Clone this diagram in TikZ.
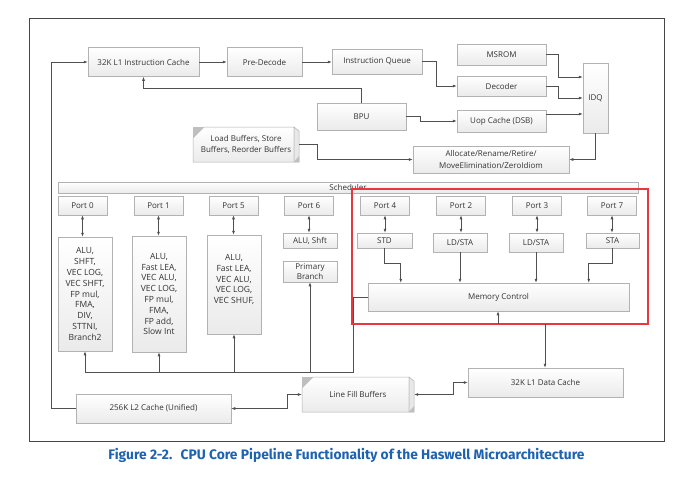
\documentclass[tikz,border=0pt]{standalone}
\usepackage{fontspec}
\setmainfont{Open Sans}
\newfontfamily\capfont{Fira Sans}
\usetikzlibrary{arrows.meta,calc,shadows}
\definecolor{ln}{HTML}{505050}
\definecolor{txt}{HTML}{333333}
\definecolor{capblue}{HTML}{1E62B0}
\definecolor{redb}{HTML}{E8383D}
\newcommand{\threeD}[4]{% x0 y0 x1 y1
  \path[draw=gray!60, line width=0.5pt, top color=white, bottom color=gray!16]
    (#1,#2+11) -- (#1+11,#2) -- (#3-5,#2) -- (#3-5,#4) -- (#1,#4) -- cycle;
  \fill[gray!50] (#1,#2) -- (#1+11,#2) -- (#1,#2+11) -- cycle;
  \path[draw=gray!60, line width=0.5pt, fill=gray!18]
    (#3-5,#2) -- (#3,#2+4) -- (#3,#4) -- (#3-5,#4) -- cycle;
  \fill[gray!50] (#3-5,#4) -- (#3,#4) -- (#3,#4-6) -- cycle;
}
\begin{document}
\begin{tikzpicture}[x=1pt,y=-1pt,
  blk/.style={draw=gray!60, line width=0.5pt, top color=white, bottom color=gray!16,
    align=center, inner sep=0pt, text=txt, font=\fontsize{8}{11}\selectfont,
    drop shadow={shadow xshift=0.8pt,shadow yshift=-0.9pt,fill=gray!60,opacity=0.6}},
  unit/.style={blk, font=\fontsize{8.5}{10.8}\selectfont},
  lbl/.style={align=center, inner sep=0pt, text=txt, font=\fontsize{8}{10.8}\selectfont},
  con/.style={draw=ln, line width=0.6pt},
  arr/.style={con, -{Latex[length=4pt,width=3pt]}},
  darr/.style={con, {Latex[length=4pt,width=3pt]}-{Latex[length=4pt,width=3pt]}},
]
\useasboundingbox (0,0) rectangle (690,477);
\fill[white] (0,0) rectangle (690,477);
% frame
\draw[gray!55!black, line width=0.7pt] (29,18) rectangle (664,441);

% front end
\node[blk, minimum width=111, minimum height=29] (l1i) at (143.5,62) {32K L1 Instruction Cache};
\node[blk, minimum width=75, minimum height=29] (pred) at (264.5,62) {Pre-Decode};
\node[blk, minimum width=90, minimum height=25] (iq) at (377,61.5) {Instruction Queue};
\node[blk, minimum width=89, minimum height=21] (msrom) at (501.5,54.5) {MSROM};
\node[blk, minimum width=89, minimum height=20] (dec) at (501.5,86) {Decoder};
\node[blk, minimum width=89, minimum height=22] (uop) at (501.5,121) {Uop Cache (DSB)};
\node[blk, minimum width=25, minimum height=70] (idq) at (595.5,98) {IDQ};
\node[blk, minimum width=89, minimum height=27] (bpu) at (361.5,116.5) {BPU};
\threeD{193}{127}{299}{162}
\node[lbl, minimum width=106, minimum height=35] (lb) at (246,144.5) {Load Buffers, Store\\Buffers, Reorder Buffers};
\node[blk, minimum width=156, minimum height=27, font=\fontsize{8}{12}\selectfont] (alloc) at (491,159.5) {Allocate/Rename/Retire/\\MoveElimination/ZeroIdiom};

% scheduler
\node[blk, minimum width=580, minimum height=11] (sched) at (348,187.5) {Scheduler};

% ports
\foreach \n/\x/\t in {p0/82.5/Port 0, p1/158.5/Port 1, p5/233.5/Port 5, p6/309/Port 6,
                      p4/385/Port 4, p2/461/Port 2, p3/537/Port 3, p7/612/Port 7}
  \node[blk, minimum width=49, minimum height=19] (\n) at (\x,205.5) {\t};

\node[unit, minimum width=54, minimum height=114] (p0u) at (85,294)
  {ALU,\\SHFT,\\VEC LOG,\\VEC SHFT,\\FP mul,\\FMA,\\DIV,\\STTNI,\\Branch2};
\node[unit, minimum width=54, minimum height=116] (p1u) at (159,294)
  {ALU,\\Fast LEA,\\VEC ALU,\\VEC LOG,\\FP mul,\\FMA,\\FP add,\\Slow Int};
\node[unit, minimum width=54, minimum height=99] (p5u) at (234,284.5) {};
\node[lbl, font=\fontsize{8.5}{10.8}\selectfont] (p5t) at (234,279.5)
  {ALU,\\Fast LEA,\\VEC ALU,\\VEC LOG,\\VEC SHUF,};
\node[blk, minimum width=54, minimum height=15] (alu6) at (310,240.5) {ALU, Shft};
\node[blk, minimum width=54, minimum height=21, font=\fontsize{8}{10}\selectfont] (pb) at (310,271.5) {Primary\\Branch};

\node[blk, minimum width=55, minimum height=15] (std) at (384.5,240.5) {STD};
\node[blk, minimum width=54, minimum height=19] (lds2) at (460,242.5) {LD/STA};
\node[blk, minimum width=54, minimum height=19] (lds3) at (536,242.5) {LD/STA};
\node[blk, minimum width=53, minimum height=15] (sta) at (612.5,240.5) {STA};
\node[blk, minimum width=261, minimum height=28] (mc) at (498.5,297) {Memory Control};

% caches
\node[blk, minimum width=155, minimum height=29] (l1d) at (545.5,382.5) {32K L1 Data Cache};
\threeD{302}{377}{414}{412}
\node[lbl, minimum width=112, minimum height=35] (lfb) at (358,394.5) {Line Fill Buffers};
\node[blk, minimum width=155, minimum height=29] (l2) at (153.5,408.5) {256K L2 Cache (Unified)};

% connectors: front end
\draw[arr] (l2.west) -- (51,408.5) |- (l1i.west);
\draw[arr] (l1i.east) -- (pred.west);
\draw[arr] (pred.east) -- (pred.east -| iq.west);
\draw[arr] (iq.east) -- ++(14,0) |- (dec.west);
\draw[arr] (msrom.east) -- ++(12,0) |- ($(idq.west)+(0,-21)$);
\draw[arr] (dec.east) -- ++(12,0) |- (idq.west);
\draw[arr] ($(uop.east)+(0,-7)$) -- ($(idq.west)+(0,16)$);
\draw[arr] (bpu.east) -- ++(14,0) |- (uop.west);
\draw[arr] (bpu.north) -- ++(0,-14) -| (l1i.south);
\draw[arr] (idq.south) |- (alloc.east);
\draw[arr] (lb.east) -- ++(18,0) |- (alloc.west);

% ports to units
\foreach \p/\u in {p0/p0u, p1/p1u, p5/p5u, p6/alu6, p4/std, p2/lds2, p3/lds3, p7/sta}
  \draw[darr] (\p.south) -- (\p.south |- \u.north);

% memory ports to memory control
\draw[arr] (std.south) -- ++(0,15) -| ($(mc.north west)+(33,0)$);
\draw[arr] (lds2.south) -- (lds2.south |- mc.north);
\draw[arr] (lds3.south) -- (lds3.south |- mc.north);
\draw[arr] (sta.south) -- ++(0,15) -| ($(mc.north west)+(221,0)$);

% bus from memory control to execution units
\coordinate (bus) at (353,372);
\draw[con] (mc.west) -| (bus) -- (p0u.south |- bus);
\foreach \u in {p0u, p1u, p5u, pb}
  \draw[arr] (\u.south |- bus) -- (\u.south);

% cache links
\draw[darr] (l2.east) -- ++(56,0) |- (lfb.west);
\draw[darr] (lfb.east) -- ++(39,0) |- (l1d.west);

% red highlight
\draw[redb, line width=1.6pt] (352,189) rectangle (648,324);
\coordinate (rb1) at (498,324);
\coordinate (rb2) at (545,324);
\draw[arr] (rb1) -- (rb1 |- mc.south);
\draw[arr] (rb2) -- (rb2 |- l1d.north);

% caption
\node[font=\capfont\bfseries\fontsize{13.8}{16}\selectfont, text=capblue] (cap) at (346.5,455)
  {Figure 2-2.\hspace{0.6em}CPU Core Pipeline Functionality of the Haswell Microarchitecture};
\end{tikzpicture}
\end{document}
